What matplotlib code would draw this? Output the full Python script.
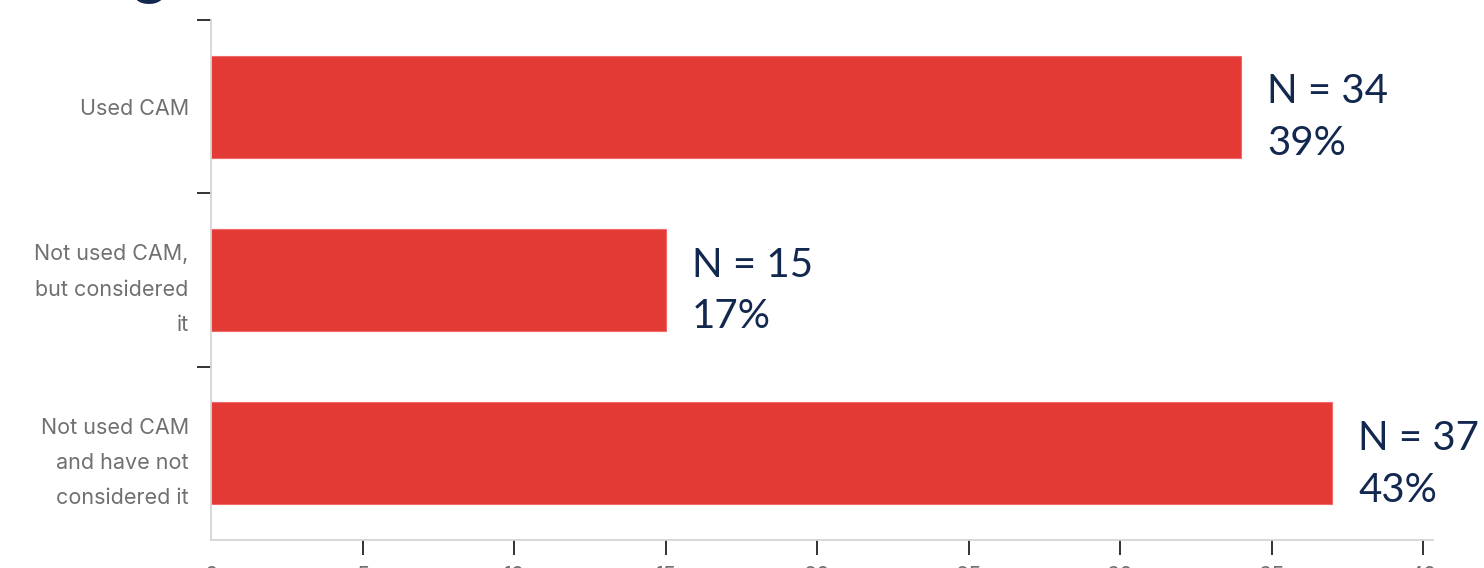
import matplotlib
matplotlib.use('Agg')
import matplotlib.pyplot as plt

categories = ["Used CAM", "Not used CAM,\nbut considered\nit", "Not used CAM\nand have not\nconsidered it"]
counts = [34, 15, 37]
percents = ["39%", "17%", "43%"]
xticks = [0, 5, 10, 15, 20, 25, 30, 35, 40]

red = "#e43a36"
navy = "#13284f"
grey = "#707070"

fig = plt.figure(figsize=(14.84, 5.68), dpi=100)
ax = fig.add_axes([211/1484, 28/568, (1433-211)/1484, 520/568])

ypos = list(range(len(categories)))
ax.barh(ypos, counts, height=0.59, color=red, edgecolor="#ef6a66", linewidth=0.8)
ax.set_ylim(len(categories) - 0.5, -0.5)
ax.set_xlim(0, 40.33)

# boundary ticks on y (no tick at the bottom corner), labels on minor ticks
ax.set_yticks([i - 0.5 for i in range(len(categories))])
ax.set_yticklabels([])
ax.set_yticks(ypos, minor=True)
ax.set_yticklabels(categories, minor=True, fontsize=15.5, color=grey,
                   linespacing=1.95, family=["Inter", "DejaVu Sans"])
ax.tick_params(axis="y", which="major", length=10, width=1.3, color="#222222")
ax.tick_params(axis="y", which="minor", length=0, pad=16)

ax.set_xticks(xticks)
ax.set_xticklabels([str(t) for t in xticks], fontsize=15.5, color=grey,
                   family=["Inter", "DejaVu Sans"])
ax.tick_params(axis="x", length=11, width=1.3, color="#222222", pad=8)
ax.xaxis.get_major_ticks()[0].tick1line.set_visible(False)

for s in ["top", "right"]:
    ax.spines[s].set_visible(False)
for s in ["left", "bottom"]:
    ax.spines[s].set_color("#d4d4d4")
    ax.spines[s].set_linewidth(1.3)

for y, c, p in zip(ypos, counts, percents):
    ax.annotate("N = %d\n%s" % (c, p), xy=(c, y), xytext=(26, -11),
                textcoords="offset pixels", ha="left", va="center",
                fontsize=29, color=navy, linespacing=1.48,
                family=["Lato", "DejaVu Sans"])

# bottom of a cut-off title letter
fig.text(132/1484, 1 - 4/568, "g", fontsize=46, weight="bold", color=navy,
         ha="left", va="bottom", family=["Lato", "DejaVu Sans"])

fig.savefig("out.png", dpi=100)
